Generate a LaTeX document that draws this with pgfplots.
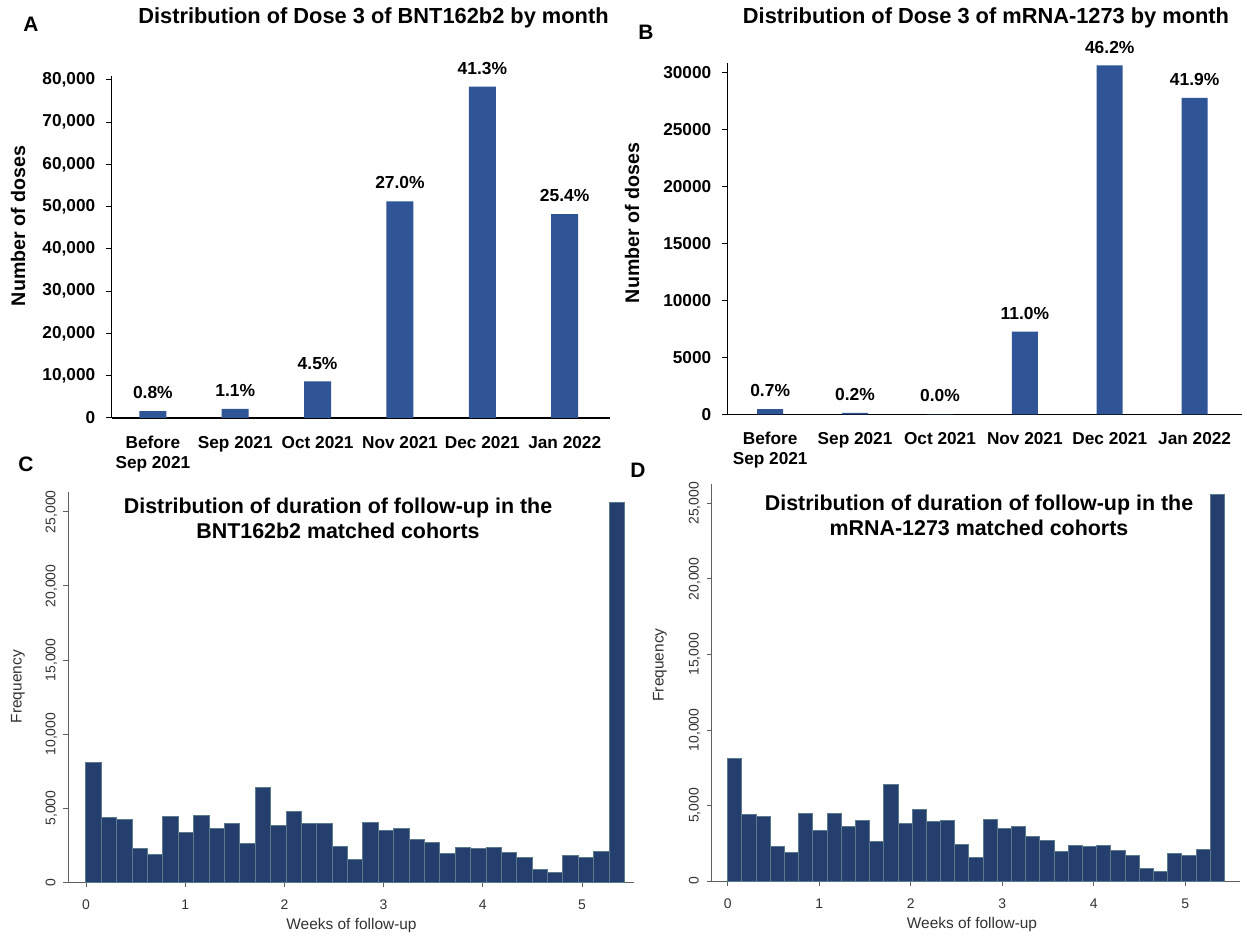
\documentclass[border=0pt]{standalone}
\usepackage{fontspec}
\setmainfont{Liberation Sans}
\usepackage{pgfplots}
\pgfplotsset{compat=1.18}
\definecolor{barblue}{HTML}{2F5597}
\definecolor{navy}{HTML}{243F6E}
\definecolor{edgec}{HTML}{5B7A8C}
\definecolor{axgray}{HTML}{606060}
\definecolor{txtgray}{HTML}{333333}
\pgfplotsset{
  barchart/.style={
    scale only axis, anchor=south west, clip=false,
    axis lines=left, axis line style={-, black, line width=1.2bp},
    ymin=0, xmin=-0.5, xmax=5.55,
    xtick={0,...,5},
    xticklabels={{Before\\Sep 2021},{Sep 2021},{Oct 2021},{Nov 2021},{Dec 2021},{Jan 2022}},
    x tick style={draw=none},
    y tick style={black, line width=1bp},
    major tick length=5.5bp, tick align=outside,
    scaled y ticks=false,
    /pgf/number format/assume math mode=true,
    xticklabel style={font=\bfseries\fontsize{17.3}{20}\selectfont, align=center, anchor=north, yshift=-9bp},
    yticklabel style={font=\bfseries\fontsize{17.3}{20}\selectfont, anchor=east, xshift=-7.5bp},
    nodes near coords, point meta=explicit symbolic,
    every node near coord/.append style={font=\bfseries\fontsize{17.5}{20}\selectfont, anchor=south, inner sep=0pt, yshift=12bp, black},
  },
  histo/.style={
    scale only axis, anchor=south west,
    axis lines=left, axis line style={-, axgray, line width=1bp},
    ymin=0,
    xtick={0,...,5},
    ytick={0,5000,...,25000},
    tick style={axgray, line width=0.8bp},
    major tick length=5bp, tick align=outside,
    scaled y ticks=false,
    /pgf/number format/assume math mode=true,
    /pgf/number format/1000 sep={,},
    xticklabel style={font=\fontsize{14}{16}\selectfont, text=txtgray, anchor=north, yshift=-9bp},
    yticklabel style={font=\fontsize{14}{16}\selectfont, text=txtgray, xshift=-8bp, rotate=90, anchor=base},
  },
}
\begin{document}
\begin{tikzpicture}
\path[fill=white] (0,0) rectangle (1247bp,944bp);

% ---------- Panel A ----------
\begin{axis}[barchart, at={(111.7bp,526bp)}, width=498.3bp, height=342bp,
  ymax=80950, ytick={0,10000,...,80000},
  /pgf/number format/1000 sep={,}]
\addplot[ybar, bar width=27bp, fill=barblue, draw=none] coordinates {
  (0,1600) [0.8\%]
  (1,2150) [1.1\%]
  (2,8650) [4.5\%]
  (3,51300) [27.0\%]
  (4,78450) [41.3\%]
  (5,48230) [25.4\%]
};
\end{axis}

% ---------- Panel B ----------
\begin{axis}[barchart, at={(727.7bp,529.7bp)}, width=514.3bp, height=351.3bp,
  ymax=30816, ytick={0,5000,...,30000}, xmax=5.558,
  /pgf/number format/1000 sep={}]
\addplot[ybar, bar width=26bp, fill=barblue, draw=none] coordinates {
  (0,464) [0.7\%]
  (1,133) [0.2\%]
  (2,20) [0.0\%]
  (3,7260) [11.0\%]
  (4,30600) [46.2\%]
  (5,27750) [41.9\%]
};
\end{axis}

% ---------- Panel C ----------
\begin{axis}[histo, at={(68.3bp,61.7bp)}, width=566bp, height=390.6bp,
  xmin=-0.178, xmax=5.527, ymax=26349]
\addplot[ybar interval, fill=navy, draw=edgec, line width=1bp] coordinates {
(0.0000,8100) (0.1551,4390) (0.3102,4250) (0.4653,2310) (0.6204,1880)
(0.7755,4460) (0.9306,3370) (1.0857,4500) (1.2408,3620) (1.3959,4000)
(1.5510,2620) (1.7061,6400) (1.8612,3820) (2.0163,4750) (2.1714,3940)
(2.3265,3980) (2.4816,2420) (2.6367,1540) (2.7918,4050) (2.9469,3480)
(3.1020,3600) (3.2571,2920) (3.4122,2690) (3.5673,1970) (3.7224,2330)
(3.8776,2260) (4.0327,2350) (4.1878,1990) (4.3429,1700) (4.4980,840)
(4.6531,660) (4.8082,1810) (4.9633,1670) (5.1184,2060) (5.2735,25600)
(5.4286,0)
};
\end{axis}

% ---------- Panel D ----------
\begin{axis}[histo, at={(711.7bp,63bp)}, width=528.3bp, height=397bp,
  xmin=-0.175, xmax=5.599, ymax=26277]
\addplot[ybar interval, fill=navy, draw=edgec, line width=1bp] coordinates {
(0.0000,8100) (0.1551,4390) (0.3102,4250) (0.4653,2310) (0.6204,1880)
(0.7755,4460) (0.9306,3370) (1.0857,4500) (1.2408,3620) (1.3959,4000)
(1.5510,2620) (1.7061,6400) (1.8612,3820) (2.0163,4750) (2.1714,3940)
(2.3265,3980) (2.4816,2420) (2.6367,1540) (2.7918,4050) (2.9469,3480)
(3.1020,3600) (3.2571,2920) (3.4122,2690) (3.5673,1970) (3.7224,2330)
(3.8776,2260) (4.0327,2350) (4.1878,1990) (4.3429,1700) (4.4980,840)
(4.6531,660) (4.8082,1810) (4.9633,1670) (5.1184,2060) (5.2735,25600)
(5.4286,0)
};
\end{axis}

% ---------- Texts ----------
\node[font=\bfseries\fontsize{21.9}{26}\selectfont] at (373.5bp,926bp) {Distribution of Dose 3 of BNT162b2 by month};
\node[font=\bfseries\fontsize{21.9}{26}\selectfont] at (986bp,926bp) {Distribution of Dose 3 of mRNA-1273 by month};
\node[font=\bfseries\fontsize{21}{25}\selectfont] at (31bp,919.5bp) {A};
\node[font=\bfseries\fontsize{21}{25}\selectfont] at (646bp,912bp) {B};
\node[font=\bfseries\fontsize{21}{25}\selectfont] at (26bp,480bp) {C};
\node[font=\bfseries\fontsize{21}{25}\selectfont] at (638bp,474bp) {D};
\node[font=\bfseries\fontsize{19.7}{23}\selectfont, rotate=90] at (18bp,718bp) {Number of doses};
\node[font=\bfseries\fontsize{19.7}{23}\selectfont, rotate=90] at (632bp,721bp) {Number of doses};
\node[font=\bfseries\fontsize{21.5}{25.5}\selectfont, align=center] at (338bp,425.5bp) {Distribution of duration of follow-up in the\\BNT162b2 matched cohorts};
\node[font=\bfseries\fontsize{21.5}{25.5}\selectfont, align=center] at (979bp,428.5bp) {Distribution of duration of follow-up in the\\mRNA-1273 matched cohorts};
\node[font=\fontsize{15.5}{18}\selectfont, text=txtgray, rotate=90] at (18bp,257.3bp) {Frequency};
\node[font=\fontsize{15.5}{18}\selectfont, text=txtgray, rotate=90] at (660bp,279bp) {Frequency};
\node[font=\fontsize{15.5}{18}\selectfont, text=txtgray] at (351.5bp,18bp) {Weeks of follow-up};
\node[font=\fontsize{15.5}{18}\selectfont, text=txtgray] at (972bp,19bp) {Weeks of follow-up};
\end{tikzpicture}
\end{document}
